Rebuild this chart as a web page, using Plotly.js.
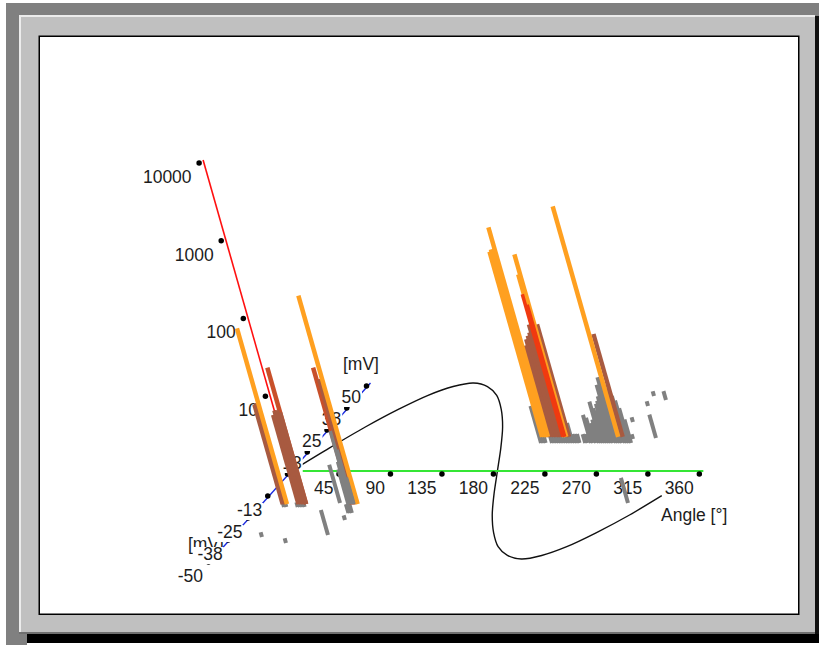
<!DOCTYPE html>
<html>
<head>
<meta charset="utf-8">
<script src="https://cdn.plot.ly/plotly-3.0.1.min.js"></script>
<style>html,body{margin:0;padding:0;background:#fff}#chart{width:819px;height:645px}</style>
</head>
<body>
<div id="chart"></div>
<script>
// Values: angle in degrees, level in mV, count on the log axis.
const angleTicks = [45, 90, 135, 180, 225, 270, 315, 360];
const voltTicks = [50, 37.5, 25, 12.5, -12.5, -25, -37.5, -50];
const voltTickLabels = ['50', '38', '25', '13', '-13', '-25', '-38', '-50'];
const countTicks = [10, 100, 1000, 10000];
const countTickLabels = ['10', '100', '1000', '10000'];

const curveAngle = [0,15,30,45,60,75,90,105,120,135,150,165,180,195,210,225,240,255,270,285,300,315,330,343];
const curveVolt = [0,13,25,35,43,48,50,48,43,35,25,13,0,-13,-25,-35,-43,-48,-50,-48,-43,-35,-25,-14];

const orangeAngle = [24.2, 86, 199.6, 194.5, 196.3, 198.1, 215.6, 214, 261];
const orangeVolt = [-18.2, -18.2, 20, 20, 20, 20, 20, 20, 20];
const orangeCount = [182, 480, 494, 240, 257, 225, 222, 123, 920];

const brownAngle = [20.5, 22.5, 34.3, 36.5, 38.7, 40.9, 83.5, 84.5, 200.5, 202.7, 204.9, 207.1, 209.3, 211, 218, 264.9];
const brownVolt = [-18.2, -18.2, -18.2, -18.2, -18.2, -18.2, -18.2, -18.2, 20, 20, 20, 20, 20, 20, 20, 20];
const brownCount = [19, 20, 14, 16, 16, 15, 40, 28, 12, 15, 18, 20, 22, 28, 28, 21];

const rustAngle = [41, 81, 82.5];
const rustVolt = [-18.2, -18.2, -18.2];
const rustCount = [57, 57, 40];

const redAngle = [212.6, 214.3];
const redVolt = [20, 20];
const redCount = [68, 50];

const grayRowAngle = [198.4,200.4,202.4,208,210,212,214,216,218,220,222,224,226,228,230,232,237,239,242,243.9,246.5,249,250.9,252.6,254.4,256.1,257.9,259.6,261.4,264,265.7,267.5,269.2,271.9,273.6,275.3,277.1];
const grayRowVolt = [16.5,16.5,16.5,16.5,16.5,16.5,16.5,16.5,16.5,16.5,16.5,16.5,16.5,16.5,16.5,16.5,16.5,16.5,16.5,16.5,16.5,16.5,16.5,16.5,16.5,16.5,16.5,16.5,16.5,16.5,16.5,16.5,16.5,16.5,16.5,16.5,16.5];
const grayRowCount = [3,2.2,1.4,1.3,1.3,1.3,1.3,1.3,1.3,1.3,3.2,3,1.8,1.3,1.3,1.3,1.3,1.3,2.3,2.1,1.8,2,3.4,2.8,2.6,3.2,3.5,4,5.6,7,6.3,5.6,5,4,3.5,2.8,2];

const graySpotAngle = [260.3,273.9,262.9,295,262.3,275.7,321.5,28.2,53.9,84.4,69.8,87.5,24,26,36,38,40,42,85,86.4,88];
const graySpotVolt = [43.2,40.9,37.5,19.3,28.4,18.75,-17.6,-36.9,-40.3,-35.8,-17.6,-27.3,-19.9,-19.9,-19.9,-19.9,-19.9,-19.9,-23.3,-23.3,-23.3];
const graySpotCount = [1.15,1.3,1.15,2,1.15,1.15,2.1,1.15,1.15,2.1,3.1,1.15,1.2,1.2,1.15,1.15,1.15,1.15,1.3,1.3,1.3];

const grayTopAngle = [77.6, 79, 80.2, 81.5, 82.8];
const grayTopVolt = [-18.2, -18.2, -18.2, -18.2, -18.2];
const grayTopCount = [2.8, 3.5, 8.7, 5, 2.2];

// Oblique projection of the three axes onto the page.
const O = {x: 288, y: 472};
const perDeg = 1.144, voltX = 1.58, voltY = 1.76, decadeX = 22.1, decadeY = 77.75;
function proj(angle, volt, count) {
  const d = Math.log10(count);
  return {x: O.x + perDeg * angle + voltX * volt - decadeX * d, y: O.y - voltY * volt - decadeY * d};
}
const lineShift = {x: 3.5, y: -1}, dotShift = {x: -0.5, y: 2};
const FONT = 'Liberation Sans, Arial, sans-serif';
const traces = [];

function lineTrace(pts, color, width, extra) {
  traces.push(Object.assign({type: 'scatter', mode: 'lines', x: pts.map(p => p && p.x), y: pts.map(p => p && p.y),
    line: {color: color, width: width}, connectgaps: false, hoverinfo: 'skip', showlegend: false}, extra || {}));
}
function shifted(p, s) { return {x: p.x + s.x, y: p.y + s.y}; }

// curve
lineTrace(curveAngle.map((a, i) => shifted(proj(a, curveVolt[i], 1), lineShift)), '#111111', 1.4, {line: {color: '#111111', width: 1.4, shape: 'spline', smoothing: 0.8}});
// axes
lineTrace([proj(0, 0, 1), proj(360, 0, 1)].map(p => shifted(p, lineShift)), '#35e635', 2);
lineTrace([proj(0, 50, 1), proj(0, -50, 1)].map(p => shifted(p, lineShift)), '#1a2ae0', 1.4);
lineTrace([proj(0, 0, 1), proj(0, 0, 10000)].map(p => shifted(p, lineShift)), '#ff1010', 1.6);
// tick dots
const dots = [].concat(
  angleTicks.map(a => proj(a, 0, 1)),
  voltTicks.map(v => proj(0, v, 1)),
  [1].concat(countTicks).map(c => proj(0, 0, c))
).map(p => shifted(p, dotShift));
traces.push({type: 'scatter', mode: 'markers', x: dots.map(p => p.x), y: dots.map(p => p.y),
  marker: {color: '#000', size: 5.5, symbol: 'circle'}, hoverinfo: 'skip', showlegend: false});

function textTrace(x, y, text, pos) {
  traces.push({type: 'scatter', mode: 'text', x: [x], y: [y], text: [text], textposition: pos,
    textfont: {family: FONT, size: 17.5, color: '#1c1c1c'}, hoverinfo: 'skip', showlegend: false, cliponaxis: false});
}
// lower [mV] title goes below the tick labels' white boxes
textTrace(188, 546, '[mV]', 'middle right');

// tick labels with opaque white boxes
function tickLabel(p, text, dx, dy) {
  const xr = p.x + dx, yc = p.y + dy, w = text.length * 9.6 + 1;
  lineTrace([{x: xr - w, y: yc + 0.5}, {x: xr + 1, y: yc + 0.5}], '#ffffff', 17);
  textTrace(xr, yc + 1, text, 'middle left');
}
voltTicks.forEach((v, i) => tickLabel(proj(0, v, 1), voltTickLabels[i], -6, v > 0 ? 14 : 17));
angleTicks.forEach(a => tickLabel(proj(a, 0, 1), String(a), -6, 17));
countTicks.forEach((c, i) => tickLabel(proj(0, 0, c), countTickLabels[i], -8, 16.5));
textTrace(343, 366, '[mV]', 'middle right');
textTrace(661, 517, 'Angle [\u00b0]', 'middle right');

// spikes: each one stands on its (angle, voltage) point and rises to its count
function spikes(angles, volts, counts, color, width) {
  const pts = [];
  angles.forEach((a, i) => { pts.push(proj(a, volts[i], 1), proj(a, volts[i], counts[i]), null); });
  lineTrace(pts, color, width);
}
spikes(grayRowAngle, grayRowVolt, grayRowCount, '#808080', 4);
spikes(graySpotAngle, graySpotVolt, graySpotCount, '#808080', 4);
spikes(rustAngle, rustVolt, rustCount, '#c8502a', 4.5);
spikes(brownAngle, brownVolt, brownCount, '#a85a40', 4.5);
spikes(orangeAngle, orangeVolt, orangeCount, '#ffa020', 4.5);
spikes(redAngle, redVolt, redCount, '#f03a10', 3.5);
spikes(grayTopAngle, grayTopVolt, grayTopCount, '#808080', 3.5);

// window frame
function rect(x0, y0, x1, y1, c) {
  return {type: 'rect', layer: 'below', xref: 'x', yref: 'y', x0: x0, y0: y0, x1: x1, y1: y1, fillcolor: c, line: {width: 0}};
}
const shapes = [
  rect(6, 3, 819, 645, '#808080'),
  rect(19, 15, 815, 632, '#c0c0c0'),
  rect(19, 15, 21, 632, '#ececec'),
  rect(19, 15, 815, 17, '#ececec'),
  rect(815, 16, 819, 645, '#101010'),
  rect(19, 632, 815, 634, '#707070'),
  rect(27, 634, 819, 643, '#000000'),
  rect(27, 643, 819, 645, '#ffffff'),
  rect(38.5, 35.5, 799.5, 615, '#000000'),
  rect(40, 37, 798, 613.5, '#ffffff')
];

const layout = {
  width: 819, height: 645, margin: {l: 0, r: 0, t: 0, b: 0},
  paper_bgcolor: '#ffffff', plot_bgcolor: 'rgba(0,0,0,0)', showlegend: false,
  xaxis: {range: [0, 819], visible: false, fixedrange: true},
  yaxis: {range: [645, 0], visible: false, fixedrange: true},
  shapes: shapes
};
Plotly.newPlot('chart', traces, layout, {staticPlot: true, displayModeBar: false});
</script>
</body>
</html>
